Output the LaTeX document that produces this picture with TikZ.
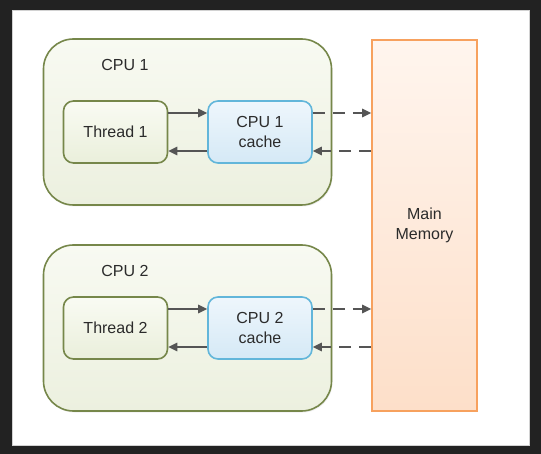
\documentclass[tikz,border=0pt]{standalone}
\usepackage{fontspec}
\setmainfont{Liberation Sans}
\usetikzlibrary{arrows.meta,shadows}
\definecolor{frame}{HTML}{222222}
\definecolor{olive}{HTML}{76874A}
\definecolor{skyline}{HTML}{62B6DA}
\definecolor{orangeline}{HTML}{F7A15E}
\definecolor{arrowgray}{HTML}{555555}
\definecolor{textgray}{HTML}{2B2B2B}
\definecolor{cputop}{HTML}{F8FAF2}
\definecolor{cpubottom}{HTML}{ECF0DF}
\definecolor{threadtop}{HTML}{F9FBF3}
\definecolor{threadbottom}{HTML}{EAEFDB}
\definecolor{cachetop}{HTML}{EEF6FC}
\definecolor{cachebottom}{HTML}{D5E9F6}
\definecolor{memtop}{HTML}{FFF5EE}
\definecolor{membottom}{HTML}{FDDFC9}
\begin{document}
\begin{tikzpicture}[x=1pt,y=-1pt,
  every node/.style={font=\fontsize{16}{19.5}\selectfont, text=textgray},
  cpubox/.style={draw=olive, line width=1.6pt, rounded corners=30pt,
    top color=cputop, bottom color=cpubottom,
    minimum width=288pt, minimum height=166pt,
    drop shadow={opacity=0.12, shadow xshift=1pt, shadow yshift=-1.5pt}},
  threadbox/.style={draw=olive, line width=1.6pt, rounded corners=10pt,
    top color=threadtop, bottom color=threadbottom,
    minimum width=104pt, minimum height=62pt, align=center},
  cachebox/.style={draw=skyline, line width=1.6pt, rounded corners=10pt,
    top color=cachetop, bottom color=cachebottom,
    minimum width=104pt, minimum height=62pt, align=center},
  membox/.style={draw=orangeline, line width=1.6pt,
    top color=memtop, bottom color=membottom,
    minimum width=105pt, minimum height=371pt, align=center},
  link/.style={draw=arrowgray, line width=1.5pt,
    -{Triangle[length=9pt,width=8.5pt]}},
  buslink/.style={link, dash pattern=on 12pt off 8pt},
]
% frame and canvas
\fill[frame] (0,0) rectangle (541,454);
\fill[white, draw=gray!35, line width=0.8pt] (12,10) rectangle (529,445);
\useasboundingbox (0,0) rectangle (541,454);

% main memory
\node[membox] (mem) at (424.5,225.5) {Main\\Memory};

% CPU 1
\node[cpubox] (cpu1) at (187.5,122) {};
\node (cpu1label) at (125,65) {CPU 1};
\node[threadbox] (t1) at (115.5,132) {Thread 1};
\node[cachebox] (c1) at (260,132) {CPU 1\\cache};

% CPU 2
\node[cpubox] (cpu2) at (187.5,328) {};
\node (cpu2label) at (125,271) {CPU 2};
\node[threadbox] (t2) at (115.5,328) {Thread 2};
\node[cachebox] (c2) at (260,328) {CPU 2\\cache};

% thread <-> cache
\draw[link] ([yshift=19pt]t1.east) -- ([yshift=19pt]c1.west);
\draw[link] ([yshift=-19pt]c1.west) -- ([yshift=-19pt]t1.east);
\draw[link] ([yshift=19pt]t2.east) -- ([yshift=19pt]c2.west);
\draw[link] ([yshift=-19pt]c2.west) -- ([yshift=-19pt]t2.east);

% cache <-> main memory
\draw[buslink] ([yshift=19pt]c1.east) -- ([yshift=19pt]c1.east -| mem.west);
\draw[buslink] ([yshift=-19pt]c1.east -| mem.west) -- ([yshift=-19pt]c1.east);
\draw[buslink] ([yshift=19pt]c2.east) -- ([yshift=19pt]c2.east -| mem.west);
\draw[buslink] ([yshift=-19pt]c2.east -| mem.west) -- ([yshift=-19pt]c2.east);
\end{tikzpicture}
\end{document}
